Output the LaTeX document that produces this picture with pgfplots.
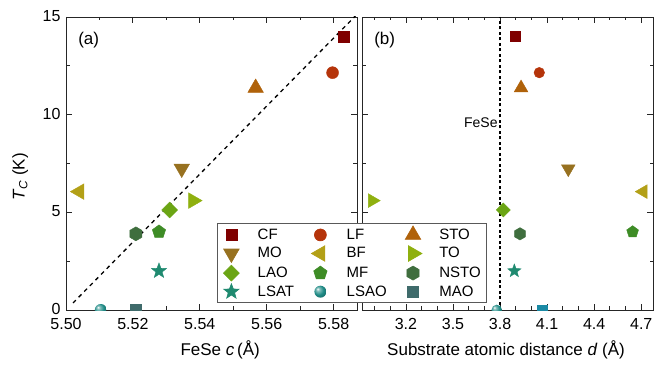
\documentclass[border=0pt]{standalone}
\usepackage{fontspec}
\setmainfont{Liberation Sans}
\usepackage{pgfplots}
\pgfplotsset{compat=1.18}
\usetikzlibrary{plotmarks}

\definecolor{cCF}{HTML}{7F0000}
\definecolor{cLF}{HTML}{B5340A}
\definecolor{cSTO}{HTML}{B0620A}
\definecolor{cMO}{HTML}{977120}
\definecolor{cBF}{HTML}{B3A017}
\definecolor{cTO}{HTML}{8FB00F}
\definecolor{cLAO}{HTML}{6BA514}
\definecolor{cMF}{HTML}{3E8C26}
\definecolor{cNSTO}{HTML}{3F6E3E}
\definecolor{cLSAT}{HTML}{1F8A70}
\definecolor{cLSAO}{HTML}{1E8A85}
\definecolor{cMAO}{HTML}{3F6B6B}
\definecolor{cMAOb}{HTML}{1A8AA5}

\pgfdeclareplotmark{hexagon*}{%
  \pgfpathmoveto{\pgfqpointpolar{90}{\pgfplotmarksize}}%
  \pgfpathlineto{\pgfqpointpolar{150}{\pgfplotmarksize}}%
  \pgfpathlineto{\pgfqpointpolar{210}{\pgfplotmarksize}}%
  \pgfpathlineto{\pgfqpointpolar{270}{\pgfplotmarksize}}%
  \pgfpathlineto{\pgfqpointpolar{330}{\pgfplotmarksize}}%
  \pgfpathlineto{\pgfqpointpolar{30}{\pgfplotmarksize}}%
  \pgfpathclose
  \pgfusepathqfillstroke}
\pgfdeclareplotmark{fstar}{%
  \pgfpathmoveto{\pgfqpointpolar{90}{\pgfplotmarksize}}%
  \pgfpathlineto{\pgfqpointpolar{126}{0.42\pgfplotmarksize}}%
  \pgfpathlineto{\pgfqpointpolar{162}{\pgfplotmarksize}}%
  \pgfpathlineto{\pgfqpointpolar{198}{0.42\pgfplotmarksize}}%
  \pgfpathlineto{\pgfqpointpolar{234}{\pgfplotmarksize}}%
  \pgfpathlineto{\pgfqpointpolar{270}{0.42\pgfplotmarksize}}%
  \pgfpathlineto{\pgfqpointpolar{306}{\pgfplotmarksize}}%
  \pgfpathlineto{\pgfqpointpolar{342}{0.42\pgfplotmarksize}}%
  \pgfpathlineto{\pgfqpointpolar{18}{\pgfplotmarksize}}%
  \pgfpathlineto{\pgfqpointpolar{54}{0.42\pgfplotmarksize}}%
  \pgfpathclose
  \pgfusepathqfillstroke}
\pgfdeclareradialshading{tealball}{\pgfpoint{-12bp}{12bp}}{%
  color(0bp)=(white);color(7bp)=(cLSAO!55!white);color(20bp)=(cLSAO);%
  color(34bp)=(cLSAO!75!black);color(50bp)=(cLSAO!60!black)}
\pgfdeclareplotmark{ball}{%
  \pgfpathcircle{\pgfpointorigin}{\pgfplotmarksize}%
  \pgfshadepath{tealball}{0}%
  \pgfusepath{}}

\pgfplotsset{
  mCF/.style={only marks, color=cCF, mark=square*, mark size=#1},
  mLF/.style={only marks, color=cLF, mark=*, mark size=#1},
  mSTO/.style={only marks, color=cSTO, mark=triangle*, mark size=#1},
  mMO/.style={only marks, color=cMO, mark=triangle*, mark size=#1, mark options={rotate=180}},
  mBF/.style={only marks, color=cBF, mark=triangle*, mark size=#1, mark options={rotate=90}},
  mTO/.style={only marks, color=cTO, mark=triangle*, mark size=#1, mark options={rotate=-90}},
  mLAO/.style={only marks, color=cLAO, mark=square*, mark size=#1, mark options={rotate=45}},
  mMF/.style={only marks, color=cMF, mark=pentagon*, mark size=#1},
  mNSTO/.style={only marks, color=cNSTO, mark=hexagon*, mark size=#1},
  mLSAT/.style={only marks, color=cLSAT, mark=fstar, mark size=#1},
  mLSAO/.style={only marks, color=cLSAO, mark=ball, mark size=#1},
  mMAO/.style={only marks, color=cMAO, mark=square*, mark size=#1},
  common/.style={
    scale only axis, width=291pt, height=293pt,
    ymin=0, ymax=15,
    ytick={0,5,10,15}, minor ytick={2.5,7.5,12.5},
    tick align=inside, major tick length=6pt, minor tick length=3.5pt,
    axis line style={line width=0.9pt, black!85},
    every tick/.style={line width=0.8pt, black!85},
    tick label style={font=\fontsize{16}{18}\selectfont, inner sep=1pt},
    xticklabel style={yshift=-7.3pt},
    yticklabel style={xshift=-4.3pt, yshift=1pt},
    /pgf/number format/assume math mode=true,
    clip=true, clip marker paths=true,
  },
}

\begin{document}
\begin{tikzpicture}
\useasboundingbox (0,0) rectangle (655pt,364pt);
\begin{axis}[common,
  at={(66pt,54pt)}, anchor=south west,
  xmin=5.50, xmax=5.587,
  xtick={5.50,5.52,5.54,5.56,5.58}, minor xtick={5.51,5.53,5.55,5.57},
  xticklabel style={/pgf/number format/.cd, fixed, fixed zerofill, precision=2},
  xlabel={FeSe \textit{c}\,(Å)},
  ylabel={\textit{T}\textsubscript{\textit{C}} (K)},
  every axis x label/.style={at={(axis description cs:0.53,-0.137)}, anchor=center, font=\fontsize{17}{20}\selectfont},
  every axis y label/.style={at={(axis description cs:-0.157,0.454)}, rotate=90, anchor=center, font=\fontsize{17}{20}\selectfont},
]
\addplot[black, line width=1.3pt, dash pattern=on 4pt off 4pt] coordinates {(5.5021,0.36) (5.5865,15.05)};
\addplot[mCF=5.5] coordinates {(5.583,14.0)};
\addplot[mLF=6] coordinates {(5.5797,12.15)};
\addplot[mSTO=9] coordinates {(5.5567,11.37)};
\addplot[mMO=9] coordinates {(5.5346,7.24)};
\addplot[mBF=9] coordinates {(5.504,6.06)};
\addplot[mTO=9] coordinates {(5.538,5.6)};
\addplot[mLAO=5.6] coordinates {(5.531,5.12)};
\addplot[mMF=7] coordinates {(5.5278,4.0)};
\addplot[mNSTO=7] coordinates {(5.5209,3.9)};
\addplot[mLSAT=8] coordinates {(5.5278,2.0)};
\addplot[mLSAO=6] coordinates {(5.5104,0)};
\addplot[mMAO=5.5] coordinates {(5.5209,0)};
\node[anchor=north west, font=\fontsize{17}{20}\selectfont] at (axis description cs:0.03,0.96) {(a)};
\end{axis}

\begin{axis}[common,
  at={(362pt,54pt)}, anchor=south west,
  xmin=2.92, xmax=4.775,
  xtick={3.2,3.5,3.8,4.1,4.4,4.7},
  minor xtick={3.0,3.1,3.3,3.4,3.6,3.7,3.9,4.0,4.2,4.3,4.5,4.6},
  xticklabel style={/pgf/number format/.cd, fixed, fixed zerofill, precision=1},
  yticklabels={},
  xlabel={Substrate atomic distance \textit{d} (Å)},
  every axis x label/.style={at={(axis description cs:0.495,-0.137)}, anchor=center, font=\fontsize{17}{20}\selectfont},
  legend columns=3,
  legend cell align=left,
  legend style={at={(axis description cs:-0.499,0.024)}, anchor=south west,
    draw=black!65, line width=0.6pt, fill=white,
    font=\fontsize{15}{17}\selectfont,
    inner xsep=4pt, inner ysep=3pt, row sep=2.6pt,
    /tikz/every even column/.append style={column sep=14pt},
    /tikz/every odd column/.append style={column sep=14pt}},
  legend image code/.code={\draw[#1] plot coordinates {(10pt,0pt)}; \path (0pt,0pt) (20pt,0pt);},
]
\addplot[black, line width=1.3pt, dash pattern=on 3pt off 2.5pt, forget plot] coordinates {(3.8,0) (3.8,15)};
\node[anchor=east, font=\fontsize{14}{16}\selectfont, inner sep=1.5pt] at (axis cs:3.795,9.6) {FeSe};
\addplot[mCF=5, forget plot] coordinates {(3.896,14.0)};
\addplot[mLF=5.3, forget plot] coordinates {(4.05,12.15)};
\addplot[mSTO=7.9, forget plot] coordinates {(3.934,11.37)};
\addplot[mMO=7.9, forget plot] coordinates {(4.235,7.23)};
\addplot[mBF=7.9, forget plot] coordinates {(4.712,6.06)};
\addplot[mTO=7.9, forget plot] coordinates {(2.986,5.6)};
\addplot[mLAO=5, forget plot] coordinates {(3.821,5.12)};
\addplot[mMF=6.2, forget plot] coordinates {(4.645,4.0)};
\addplot[mNSTO=6.2, forget plot] coordinates {(3.927,3.9)};
\addplot[mLSAT=7, forget plot] coordinates {(3.891,2.0)};
\addplot[mLSAO=5.3, forget plot] coordinates {(3.779,0)};
\addplot[only marks, color=cMAOb, mark=square*, mark size=5, forget plot] coordinates {(4.066,0)};
\node[anchor=north west, font=\fontsize{17}{20}\selectfont] at (axis description cs:0.03,0.96) {(b)};
\addlegendimage{mCF=5.5}\addlegendentry{CF}
\addlegendimage{mLF=6}\addlegendentry{LF}
\addlegendimage{mSTO=9}\addlegendentry{STO}
\addlegendimage{mMO=9}\addlegendentry{MO}
\addlegendimage{mBF=9}\addlegendentry{BF}
\addlegendimage{mTO=9}\addlegendentry{TO}
\addlegendimage{mLAO=5.6}\addlegendentry{LAO}
\addlegendimage{mMF=7}\addlegendentry{MF}
\addlegendimage{mNSTO=7}\addlegendentry{NSTO}
\addlegendimage{mLSAT=8}\addlegendentry{LSAT}
\addlegendimage{mLSAO=6}\addlegendentry{LSAO}
\addlegendimage{mMAO=5.5}\addlegendentry{MAO}
\end{axis}
\end{tikzpicture}
\end{document}
